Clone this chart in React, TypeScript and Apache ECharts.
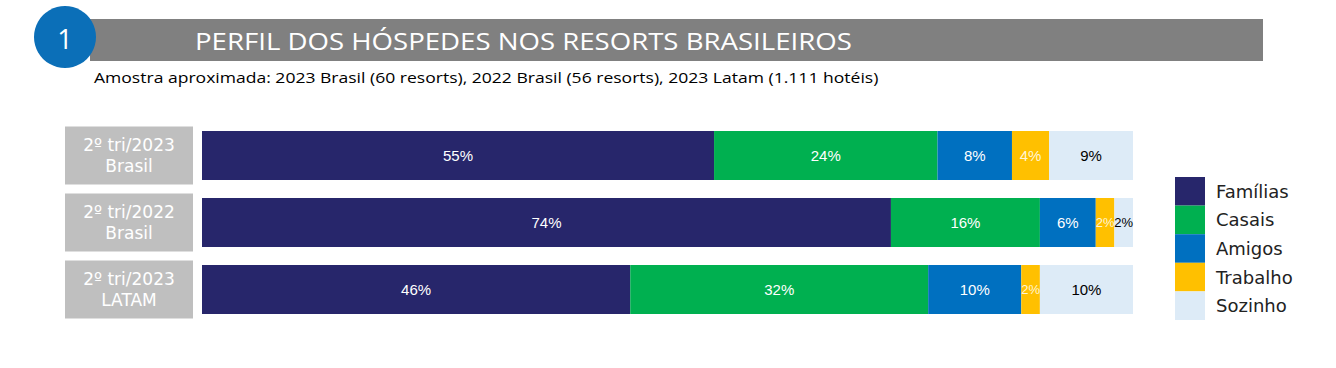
import React, { useEffect, useRef } from "react";
import * as echarts from "echarts";

const categories = ["2º tri/2023\nBrasil", "2º tri/2022\nBrasil", "2º tri/2023\nLATAM"];
const seriesNames = ["Famílias", "Casais", "Amigos", "Trabalho", "Sozinho"];
const familias = [55, 74, 46];
const casais = [24, 16, 32];
const amigos = [8, 6, 10];
const trabalho = [4, 2, 2];
const sozinho = [9, 2, 10];
const seriesValues = [familias, casais, amigos, trabalho, sozinho];
const colors = ["#27266b", "#00b050", "#0070c0", "#ffc000", "#ddebf7"];
const labelColors = ["#ffffff", "#ffffff", "#ffffff", "#fff5d6", "#000000"];
const titleText = "PERFIL DOS HÓSPEDES NOS RESORTS BRASILEIROS";
const subtitleText = "Amostra aproximada: 2023 Brasil (60 resorts), 2022 Brasil (56 resorts), 2023 Latam (1.111 hotéis)";

export default function App() {
  const ref = useRef<HTMLDivElement>(null);
  useEffect(() => {
    if (!ref.current) return;
    const chart = echarts.init(ref.current, null, { renderer: "svg" });
    chart.setOption({
      animation: false,
      backgroundColor: "#ffffff",
      graphic: [
        { type: "rect", shape: { x: 90, y: 19, width: 1173, height: 42 }, style: { fill: "#808080" } },
        { type: "circle", shape: { cx: 65, cy: 37, r: 31 }, style: { fill: "#0b6fb8" } },
        {
          type: "text", x: 65, y: 38,
          style: { text: "1", fill: "#ffffff", font: "400 27px 'Open Sans', sans-serif", align: "center", verticalAlign: "middle" },
        },
        {
          type: "text", x: 195, y: 41, scaleX: 1.2,
          style: { text: titleText, fill: "#ffffff", font: "400 23px 'Open Sans', sans-serif", align: "left", verticalAlign: "middle" },
        },
        {
          type: "text", x: 94, y: 77, scaleX: 1.17,
          style: { text: subtitleText, fill: "#000000", font: "500 15px 'Open Sans', sans-serif", align: "left", verticalAlign: "middle" },
        },
      ],
      legend: {
        orient: "vertical",
        left: 1175,
        top: 177,
        padding: 0,
        itemWidth: 30,
        itemHeight: 28.6,
        itemGap: 0,
        icon: "rect",
        data: seriesNames,
        textStyle: { fontSize: 18, color: "#222222", fontFamily: "'DejaVu Sans', sans-serif", padding: [0, 0, 0, 6] },
      },
      grid: { left: 202, right: 203, top: 122, bottom: 45 },
      xAxis: { type: "value", min: 0, max: 100, show: false },
      yAxis: {
        type: "category",
        inverse: true,
        data: categories,
        axisLine: { show: false },
        axisTick: { show: false },
        axisLabel: {
          margin: 9,
          backgroundColor: "#bfbfbf",
          padding: [8, 0, 8, 0],
          formatter: (v: string) => v.split("\n").map((s) => `{b|${s}}`).join("\n"),
          rich: {
            b: { width: 128, align: "center", color: "#ffffff", fontSize: 17, lineHeight: 21, fontFamily: "'DejaVu Sans', sans-serif" },
          },
        },
      },
      series: seriesNames.map((name, i) => ({
        name,
        type: "bar",
        stack: "total",
        barWidth: 49,
        data: seriesValues[i].map((v) => (v <= 2 ? { value: v, label: { fontSize: 13 } } : v)),
        itemStyle: { color: colors[i] },
        label: {
          show: true,
          position: "inside",
          formatter: "{c}%",
          color: labelColors[i],
          fontSize: 15,
          fontFamily: "'Liberation Sans', Arial, sans-serif",
        },
      })),
    });
    return () => chart.dispose();
  }, []);
  return <div ref={ref} style={{ position: "absolute", left: 0, top: 0, width: 1336, height: 368 }} />;
}
